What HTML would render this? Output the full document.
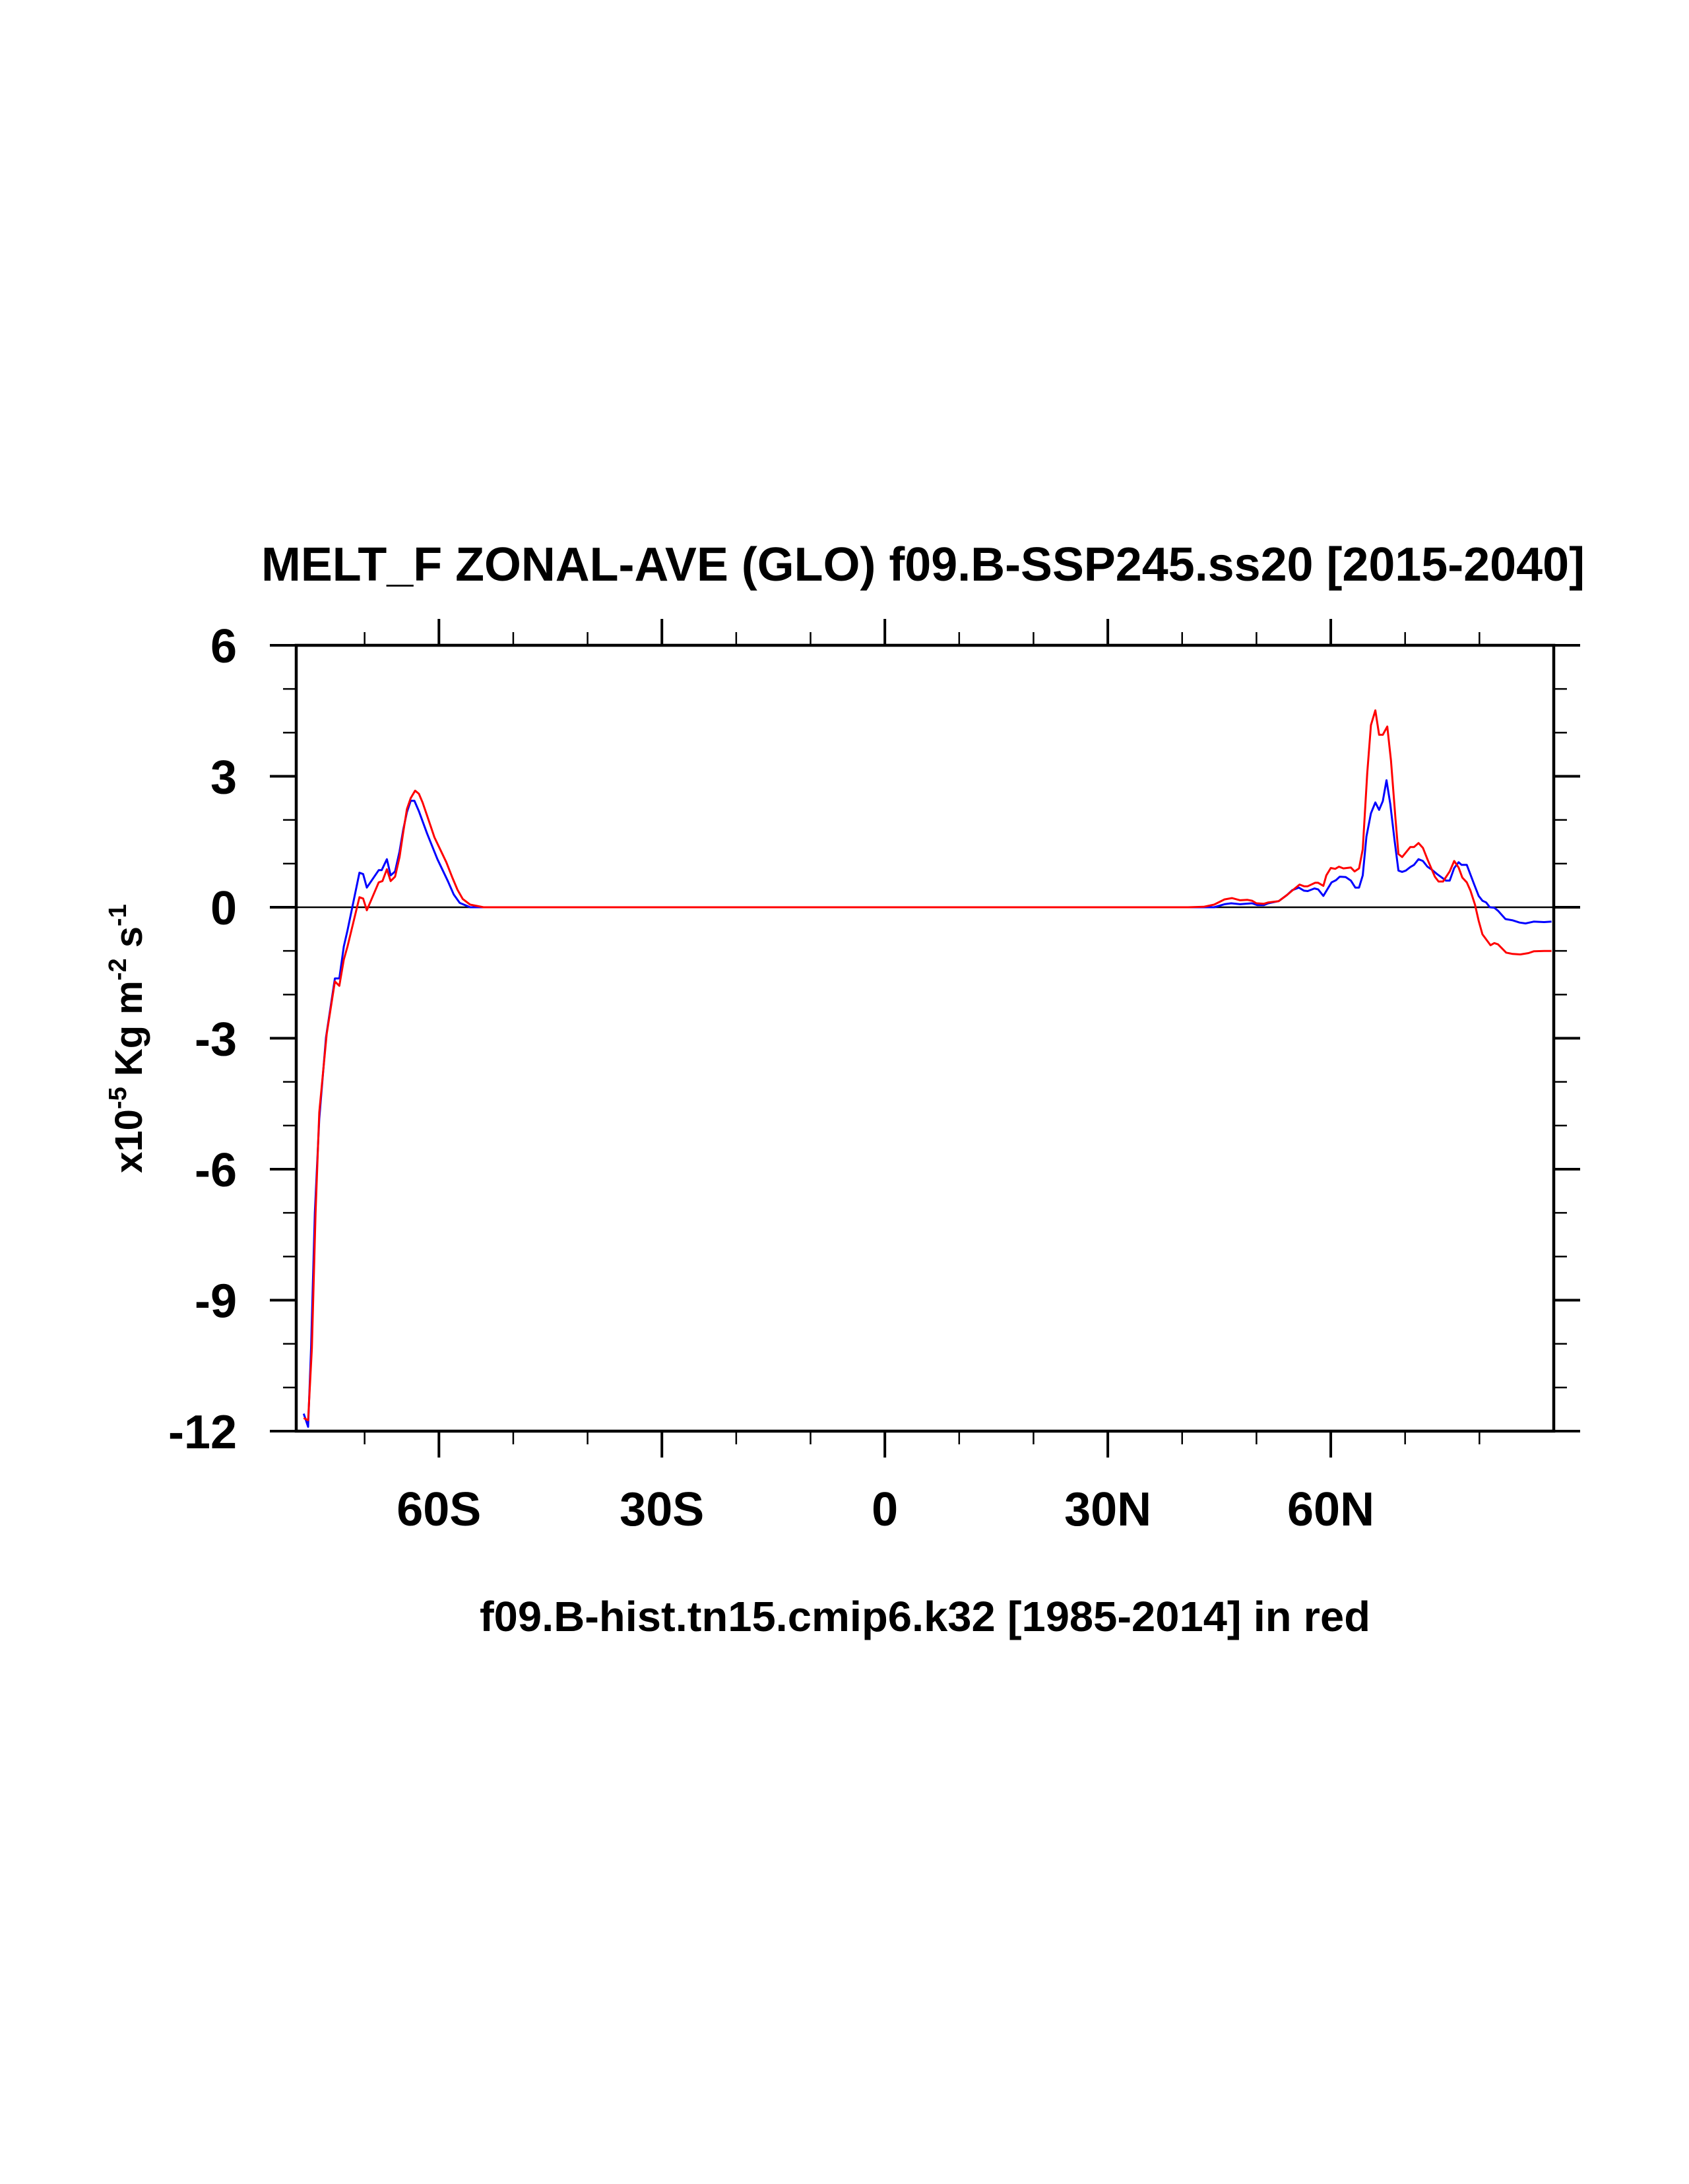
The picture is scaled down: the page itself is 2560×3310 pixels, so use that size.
<!DOCTYPE html>
<html><head><meta charset="utf-8"><style>
html,body{margin:0;padding:0;background:#fff;}
svg{display:block;}
text{font-family:"Liberation Sans",Arial,sans-serif;font-weight:bold;fill:#000;}
</style></head><body>
<svg id="chart" width="2560" height="3310" viewBox="0 0 2560 3310" xmlns="http://www.w3.org/2000/svg">
<rect x="0" y="0" width="2560" height="3310" fill="#fff"/>
<text x="1399" y="880" font-size="72" text-anchor="middle" textLength="2006" lengthAdjust="spacingAndGlyphs">MELT_F ZONAL-AVE (GLO) f09.B-SSP245.ss20 [2015-2040]</text>
<text x="1402" y="2472" font-size="64" text-anchor="middle" textLength="1350" lengthAdjust="spacingAndGlyphs">f09.B-hist.tn15.cmip6.k32 [1985-2014] in red</text>
<text transform="translate(215,1574) rotate(-90)" font-size="58" text-anchor="middle">x10<tspan font-size="38" dy="-24">-5</tspan><tspan dy="24"> Kg m</tspan><tspan font-size="38" dy="-24">-2</tspan><tspan dy="24"> s</tspan><tspan font-size="38" dy="-24">-1</tspan></text>
<g id="ticks"></g>
<g id="series"></g>
<rect x="449" y="978" width="1906" height="1191" fill="none" stroke="#000" stroke-width="4.5"/>
</svg>
<script>
const xTickValues=[-60,-30,0,30,60];
const xTickLabels=["60S","30S","0","30N","60N"];
const xMinorValues=[-70,-50,-40,-20,-10,10,20,40,50,70,80];
const yTickValues=[6,3,0,-3,-6,-9,-12];
const yTickLabels=["6","3","0","-3","-6","-9","-12"];
const latBlueSouth=[-78.2,-77.6,-77.2,-76.7,-76.1,-75.2,-74.0,-73.4,-72.8,-72.3,-70.7,-70.2,-69.7,-68.1,-67.7,-67.0,-66.5,-65.9,-65.3,-64.8,-64.3,-63.8,-63.3,-62.7,-61.6,-60.2,-58.8,-58.0,-57.2,-55.8];
const valBlueSouth=[-11.6,-11.9,-10.1,-7.0,-4.85,-2.98,-1.63,-1.63,-0.9,-0.53,0.79,0.76,0.45,0.85,0.85,1.10,0.73,0.82,1.28,1.78,2.18,2.44,2.44,2.2,1.69,1.1,0.6,0.29,0.1,0];
const latBlueNorth=[40.8,44.3,45.7,46.6,47.8,49.4,50.1,51.0,51.6,53.0,54.1,54.8,55.7,56.4,56.9,57.8,58.3,59.0,60.1,60.7,61.2,62.0,62.7,63.3,63.8,64.3,64.8,65.4,66.0,66.5,67.0,67.5,68.0,68.6,69.1,69.6,70.1,70.7,71.2,71.8,72.4,73.0,73.6,74.3,75.5,76.0,76.6,77.2,77.6,78.3,79.3,79.9,80.4,80.9,81.4,82.0,82.5,83.5,84.5,85.4,86.2,87.3,88.7,89.7];
const valBlueNorth=[0,0,0.07,0.09,0.07,0.09,0.05,0.05,0.09,0.14,0.28,0.39,0.45,0.38,0.37,0.43,0.41,0.26,0.57,0.62,0.70,0.69,0.61,0.45,0.45,0.73,1.62,2.15,2.40,2.23,2.43,2.91,2.37,1.51,0.84,0.81,0.84,0.92,0.97,1.10,1.06,0.93,0.86,0.76,0.61,0.61,0.90,1.03,0.97,0.97,0.52,0.26,0.15,0.11,0,-0.01,-0.08,-0.27,-0.30,-0.35,-0.37,-0.33,-0.34,-0.33];
const latRedSouth=[-78.2,-77.6,-77.1,-76.6,-76.1,-75.1,-74.0,-73.4,-72.8,-72.3,-70.7,-70.2,-69.7,-68.1,-67.6,-67.0,-66.5,-65.9,-65.3,-64.8,-64.3,-63.8,-63.2,-62.7,-62.2,-61.6,-60.6,-59.0,-58.2,-57.5,-56.8,-55.8,-54.0];
const valRedSouth=[-11.7,-11.75,-10.1,-7.0,-4.7,-2.9,-1.7,-1.8,-1.2,-0.9,0.23,0.2,-0.07,0.57,0.6,0.87,0.6,0.7,1.15,1.72,2.25,2.5,2.67,2.6,2.4,2.1,1.6,1.03,0.68,0.4,0.19,0.06,0];
const latRedNorth=[40.8,42.9,44.3,45.7,46.7,47.8,48.8,49.4,50.0,51.0,51.6,53.0,54.1,54.8,55.8,56.4,56.9,57.9,58.3,59.0,59.4,60.0,60.6,61.1,61.7,62.7,63.2,63.8,64.3,64.9,65.4,66.0,66.5,67.0,67.6,68.1,68.7,69.1,69.6,70.7,71.2,71.8,72.4,73.0,74.0,74.5,75.1,76.0,76.6,77.2,77.7,78.3,78.8,79.4,79.9,80.4,81.5,82.0,82.5,83.6,84.5,85.5,86.6,87.3,88.7,89.7];
const valRedNorth=[0,0.01,0.06,0.18,0.21,0.16,0.17,0.15,0.09,0.08,0.11,0.14,0.28,0.38,0.52,0.48,0.48,0.56,0.56,0.49,0.73,0.90,0.88,0.93,0.89,0.91,0.82,0.89,1.33,3.07,4.17,4.51,3.95,3.95,4.14,3.36,2.03,1.22,1.15,1.38,1.38,1.47,1.36,1.10,0.70,0.59,0.59,0.82,1.06,0.91,0.68,0.57,0.38,0.06,-0.31,-0.62,-0.87,-0.82,-0.85,-1.04,-1.07,-1.08,-1.05,-1.01,-1.00,-1.00];

const NS="http://www.w3.org/2000/svg";
const X0=449,X1=2355,Y0=978,Y1=2169,XMIN=-79.2,XMAX=90,YMIN=-12,YMAX=6;
function xs(v){return X0+(v-XMIN)/(XMAX-XMIN)*(X1-X0);}
function ys(v){return Y1-(v-YMIN)/(YMAX-YMIN)*(Y1-Y0);}
const tg=document.getElementById('ticks');
function line(x1,y1,x2,y2,w,name){const l=document.createElementNS(NS,'line');l.setAttribute('x1',x1);l.setAttribute('y1',y1);l.setAttribute('x2',x2);l.setAttribute('y2',y2);l.setAttribute('stroke','#000');l.setAttribute('stroke-width',w);


tg.appendChild(l);return l;}
xTickValues.forEach((v,i)=>{const x=xs(v);
line(x,Y0,x,Y0-40,4,'x-major-tick-top');line(x,Y1,x,Y1+40,4,'x-major-tick-bottom');
const t=document.createElementNS(NS,'text');t.setAttribute('x',x);t.setAttribute('y',2312);t.setAttribute('font-size','72');t.setAttribute('text-anchor','middle');t.textContent=xTickLabels[i];


tg.appendChild(t);});
xMinorValues.forEach(v=>{const x=xs(v);line(x,Y0,x,Y0-20,2.5,'x-minor-tick-top');line(x,Y1,x,Y1+20,2.5,'x-minor-tick-bottom');});
yTickValues.forEach((v,i)=>{const y=ys(v);
line(X0,y,X0-40,y,4,'y-major-tick-left');line(X1,y,X1+40,y,4,'y-major-tick-right');
const t=document.createElementNS(NS,'text');t.setAttribute('x',359);t.setAttribute('y',y+26);t.setAttribute('font-size','72');t.setAttribute('text-anchor','end');t.textContent=yTickLabels[i];


tg.appendChild(t);});
for(let v=YMAX-1;v>YMIN;v--){if(v%3===0)continue;const y=ys(v);line(X0,y,X0-20,y,2.5,'y-minor-tick-left');line(X1,y,X1+20,y,2.5,'y-minor-tick-right');}
const zl=line(X0,ys(0),X1,ys(0),2.5,'zero-line');
const sg=document.getElementById('series');
function series(lats,vals,color,name){
 const full=lats.map((la,i)=>[la,vals[i]]);
 const p=document.createElementNS(NS,'polyline');
 p.setAttribute('points',full.map(d=>xs(d[0]).toFixed(1)+','+ys(d[1]).toFixed(1)).join(' '));
 p.setAttribute('fill','none');p.setAttribute('stroke',color);p.setAttribute('stroke-width','3');p.setAttribute('stroke-linejoin','round');
 
 
 sg.appendChild(p);}
const lat0=[-54.0,40.8],val0=[0,0];
series(latBlueSouth.concat(lat0,latBlueNorth),valBlueSouth.concat(val0,valBlueNorth),'#0000ff','ssp245-line-blue');
series(latRedSouth.concat(lat0,latRedNorth),valRedSouth.concat(val0,valRedNorth),'#ff0000','hist-line-red');
</script>
</body></html>
